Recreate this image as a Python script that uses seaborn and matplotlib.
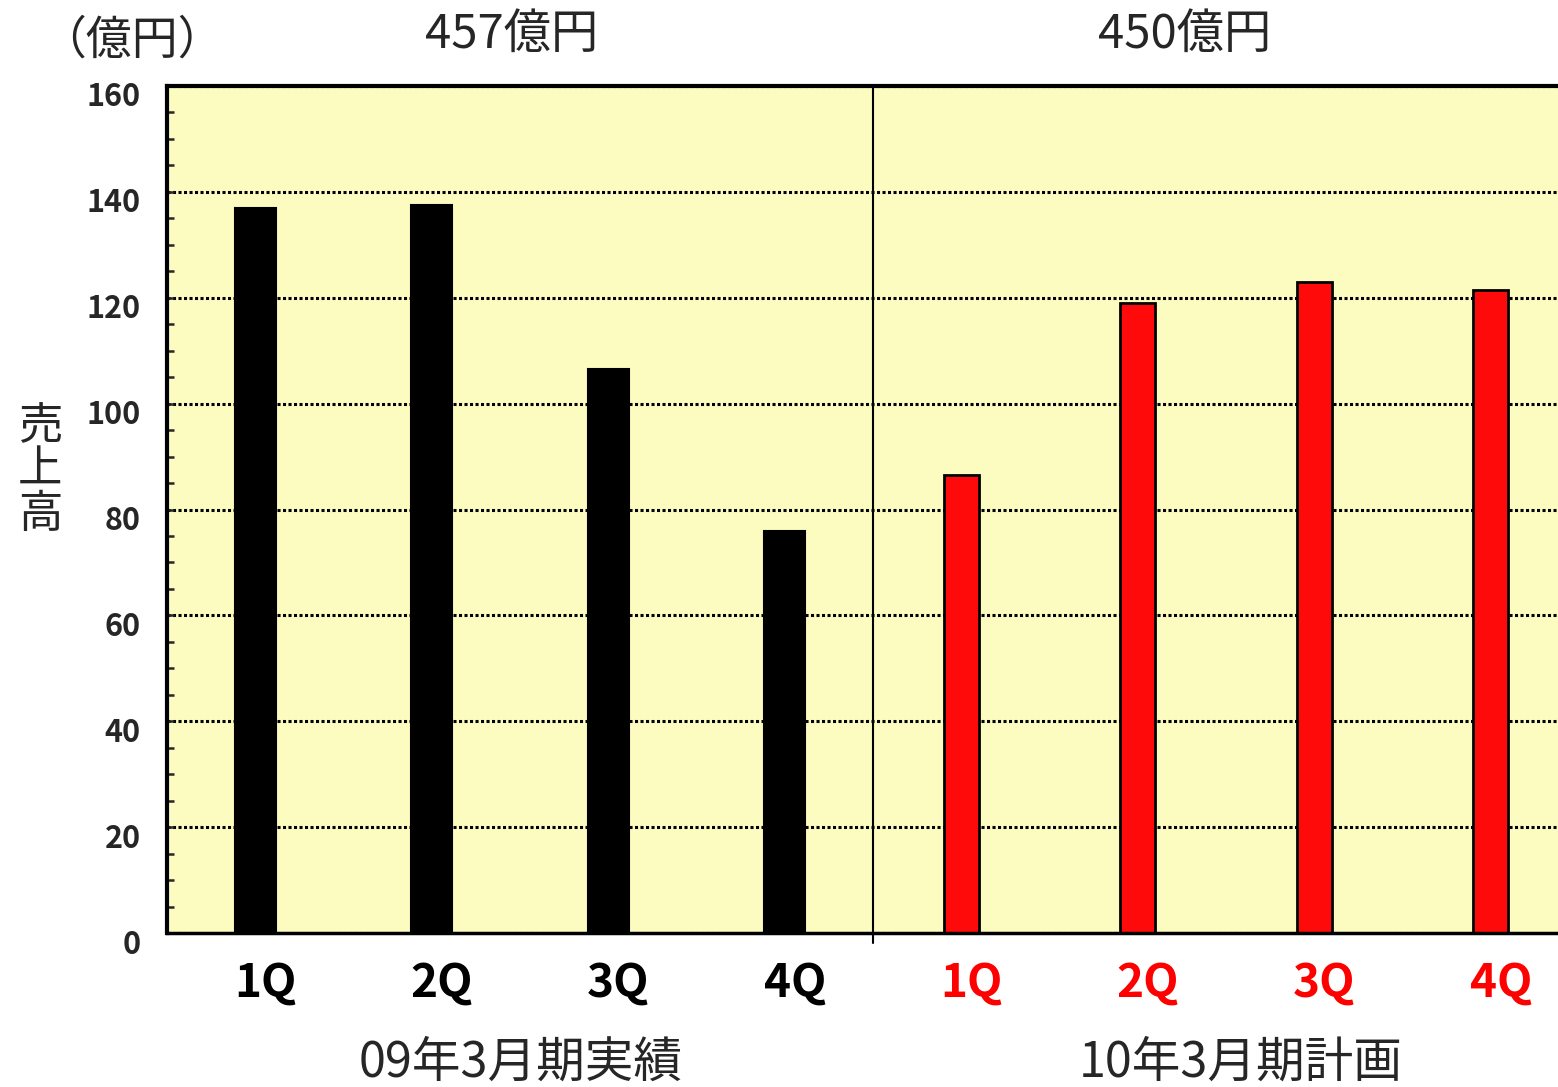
import numpy as np
import pandas as pd
import matplotlib
matplotlib.use("Agg")
import matplotlib.pyplot as plt
import matplotlib.transforms as mtransforms
import seaborn as sns
from matplotlib.ticker import MultipleLocator

# Chart data
quarters = ["1Q", "2Q", "3Q", "4Q"]
actual_fy09 = [137, 137.5, 106.5, 76]      # 09年3月期実績
plan_fy10 = [86.5, 119, 123, 121.5]        # 10年3月期計画
total_labels = ["457億円", "450億円"]
group_labels = ["09年3月期実績", "10年3月期計画"]

sns.set_style("white")
plt.rcParams["font.family"] = ["Noto Sans CJK JP", "DejaVu Sans"]

keys = [f"a{q}" for q in quarters] + [f"p{q}" for q in quarters]
df_a = pd.DataFrame({"key": keys[:4], "sales": actual_fy09})
df_p = pd.DataFrame({"key": keys[4:], "sales": plan_fy10})

fig = plt.figure(figsize=(15.58, 10.87), dpi=100)
ax = fig.add_axes([167 / 1558, 154 / 1087, (1579 - 167) / 1558, (933 - 86) / 1087])
ax.set_facecolor("#FCFCC0")

sns.barplot(data=df_a, x="key", y="sales", order=keys, color="black",
            width=0.23, edgecolor="black", linewidth=1.5, saturation=1, ax=ax)
sns.barplot(data=df_p, x="key", y="sales", order=keys, color="#FF0A0A",
            width=0.2, edgecolor="black", linewidth=2, saturation=1, ax=ax)

ax.set_ylim(0, 160)
ax.set_xlim(-0.5, 7.5)
ax.yaxis.set_major_locator(MultipleLocator(20))
ax.yaxis.set_minor_locator(MultipleLocator(5))
ax.grid(axis="y", which="major", color="black", linestyle=(0, (1.0, 0.8)), linewidth=2.2)
ax.set_axisbelow(True)

# group divider
ax.axvline(3.5, ymin=-0.012, ymax=1, color="black", linewidth=1.5, clip_on=False)

for side in ["top", "left", "bottom"]:
    ax.spines[side].set_visible(True)
    ax.spines[side].set_color("black")
ax.spines["top"].set_linewidth(3)
ax.spines["left"].set_linewidth(3)
ax.spines["bottom"].set_linewidth(2.5)
ax.spines["right"].set_visible(False)

ax.tick_params(axis="y", which="minor", direction="in", length=5, width=1.8, left=True)
ax.tick_params(axis="y", which="major", direction="in", length=5, width=1.8, left=True,
               pad=19, labelsize=22)
yshift = mtransforms.ScaledTranslation(0, -8 / 100, fig.dpi_scale_trans)
for lab in ax.get_yticklabels():
    lab.set_fontweight("bold")
    lab.set_transform(lab.get_transform() + yshift)

ax.set_xticks(range(8))
ax.set_xticklabels(quarters + quarters)
ax.tick_params(axis="x", length=0, pad=20, labelsize=33)
shift = mtransforms.ScaledTranslation(10 / 100, 0, fig.dpi_scale_trans)
for i, lab in enumerate(ax.get_xticklabels()):
    lab.set_fontweight("bold")
    lab.set_color("black" if i < 4 else "#FF0000")
    lab.set_transform(lab.get_transform() + shift)

ax.set_xlabel("")
ax.set_ylabel("")

# texts outside the axes
fig.text(132 / 1558, 1 - 40 / 1087, "（億円）", ha="center", va="center", fontsize=33)
fig.text(512 / 1558, 1 - 35 / 1087, total_labels[0], ha="center", va="center", fontsize=34)
fig.text(1185 / 1558, 1 - 35 / 1087, total_labels[1], ha="center", va="center", fontsize=34)
fig.text(521 / 1558, 1 - 1063 / 1087, group_labels[0], ha="center", va="center", fontsize=35)
fig.text(1241 / 1558, 1 - 1063 / 1087, group_labels[1], ha="center", va="center", fontsize=35)
fig.text(40 / 1558, 1 - 470 / 1087, "売\n上\n高", ha="center", va="center",
         fontsize=32, linespacing=0.95)

fig.savefig("out.png", dpi=100)
